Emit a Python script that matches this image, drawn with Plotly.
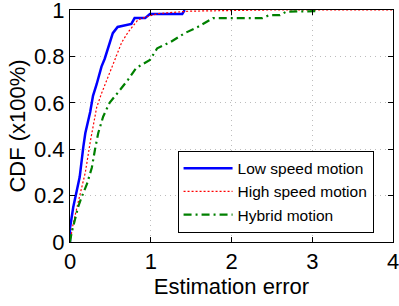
import plotly.graph_objects as go

# Estimation error (x) vs CDF (y)
low_x = [0, 0.0, 0.04, 0.12, 0.165, 0.19, 0.25, 0.285, 0.33, 0.39, 0.43, 0.49, 0.53, 0.59, 0.76, 0.8, 0.93, 0.99, 1.39, 1.42]
low_y = [0, 0.06, 0.15, 0.28, 0.41, 0.47, 0.56, 0.63, 0.68, 0.756, 0.79, 0.86, 0.90, 0.927, 0.94, 0.965, 0.965, 0.983, 0.983, 1.0]

high_x = [0, 0.04, 0.10, 0.19, 0.25, 0.27, 0.33, 0.39, 0.47, 0.53, 0.64, 0.72, 0.84, 0.94, 1.1, 1.48, 2.43, 4.0]
high_y = [0, 0.08, 0.17, 0.30, 0.43, 0.47, 0.58, 0.64, 0.71, 0.77, 0.86, 0.905, 0.957, 0.97, 0.985, 0.995, 1.0, 1.0]

hyb_x = [0, 0.02, 0.10, 0.14, 0.21, 0.27, 0.31, 0.35, 0.41, 0.49, 0.60, 0.72, 0.82, 0.99, 1.08, 1.25, 1.42, 1.60, 1.77, 2.38, 2.47, 2.60, 2.68, 3.08]
hyb_y = [0, 0.04, 0.15, 0.19, 0.25, 0.32, 0.40, 0.47, 0.54, 0.60, 0.647, 0.70, 0.75, 0.785, 0.835, 0.863, 0.90, 0.93, 0.965, 0.965, 0.978, 0.978, 0.993, 0.995]

x_ticks = [0, 1, 2, 3, 4]
y_ticks = [0, 0.2, 0.4, 0.6, 0.8, 1]
y_tick_labels = ["0", "0.2", "0.4", "0.6", "0.8", "1"]

FONT = "Liberation Sans, Arial, sans-serif"

fig = go.Figure()
fig.add_trace(go.Scatter(x=low_x, y=low_y, mode="lines", name="Low speed motion",
                         line=dict(color="#0000ff", width=2.5)))
fig.add_trace(go.Scatter(x=high_x, y=high_y, mode="lines", name="High speed motion",
                         line=dict(color="#ff0000", width=1.2, dash="2px,2px")))
fig.add_trace(go.Scatter(x=hyb_x, y=hyb_y, mode="lines", name="Hybrid motion",
                         line=dict(color="#008000", width=2.2, dash="8px,4px,2px,4px")))

axis_common = dict(
    showline=True, linecolor="black", linewidth=1, mirror="ticks",
    ticks="inside", ticklen=5, tickcolor="black",
    showgrid=True, gridcolor="#bdbdbd", griddash="1px,4px", gridwidth=1,
    zeroline=False, tickfont=dict(size=22, color="black", family=FONT),
    automargin=False, ticklabeloverflow="allow",
)

fig.update_layout(
    width=399, height=306,
    margin=dict(l=70, r=6, t=10, b=64),
    paper_bgcolor="white", plot_bgcolor="white",
    font=dict(family=FONT, color="black"),
    xaxis=dict(range=[0, 4], tickvals=x_ticks, ticktext=[str(v) for v in x_ticks],
               title=dict(text="Estimation error", font=dict(size=22), standoff=0),
               **axis_common),
    yaxis=dict(range=[0, 1], tickvals=y_ticks, ticktext=y_tick_labels,
               title=dict(text="CDF (x100%)", font=dict(size=22), standoff=2),
               **axis_common),
    legend=dict(x=0.333, y=0.04, xanchor="left", yanchor="bottom",
                bgcolor="white", bordercolor="black", borderwidth=1,
                font=dict(size=15.5, color="black"), tracegroupgap=0,
                itemwidth=49),
    showlegend=True,
)

fig.write_html("out.html",
               config={"displayModeBar": False},
               post_script="document.body.style.margin='0';document.body.style.padding='0';")
